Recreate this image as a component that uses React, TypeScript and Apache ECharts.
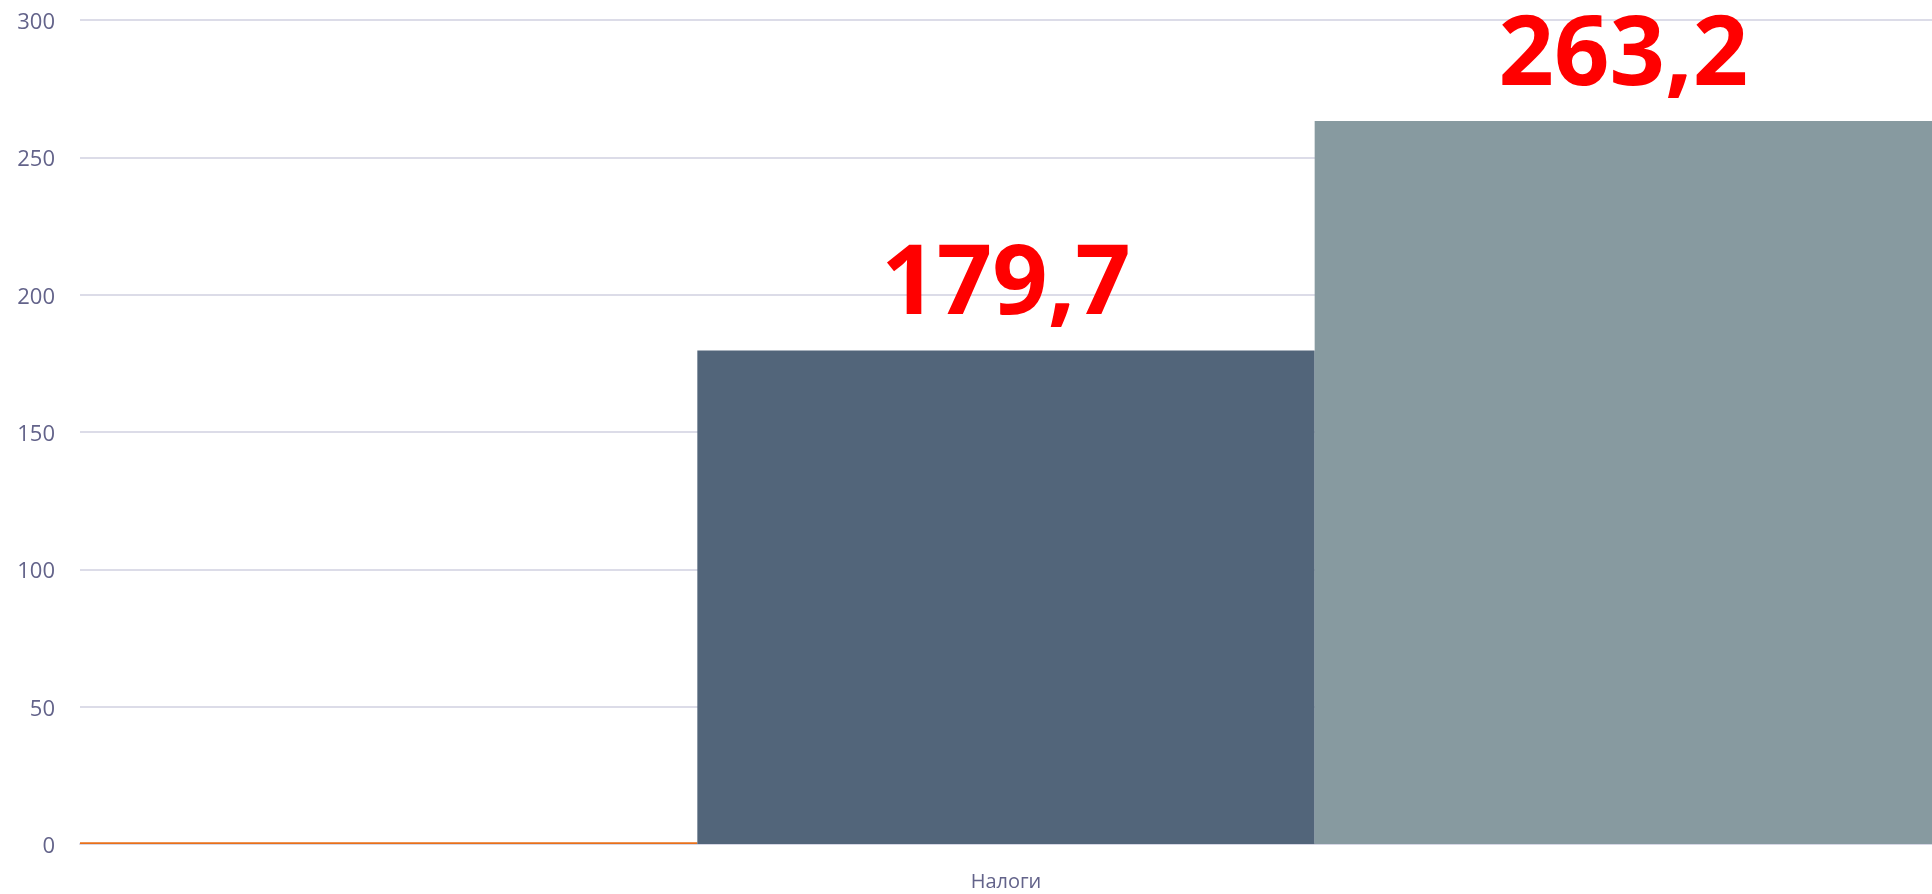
import React, { useEffect, useRef } from "react";
import * as echarts from "echarts";

const categories = ["Налоги"];
const seriesNames = ["Ряд 1", "Ряд 2", "Ряд 3"];
const seriesValues = [[0.6], [179.7], [263.2]];
const seriesColors = ["#e8701a", "#52657a", "#879aa0"];
const showLabels = [false, true, true];

export default function App() {
  const ref = useRef<HTMLDivElement>(null);
  useEffect(() => {
    if (!ref.current) return;
    const chart = echarts.init(ref.current, null, { renderer: "svg" });
    chart.setOption({
      animation: false,
      grid: { left: 80, right: 0, top: 20, bottom: 50, containLabel: false },
      xAxis: {
        type: "category",
        data: categories,
        axisTick: { show: false },
        axisLine: { show: true, lineStyle: { color: "#d6d6e4", width: 2 } },
        axisLabel: {
          color: "#63638a",
          fontFamily: "Open Sans",
          fontSize: 20,
          margin: 26,
        },
      },
      yAxis: {
        type: "value",
        min: 0,
        max: 300,
        interval: 50,
        axisLine: { show: false },
        axisTick: { show: false },
        splitLine: { lineStyle: { color: "#dcdce8", width: 2 } },
        axisLabel: {
          color: "#63638a",
          fontFamily: "Open Sans",
          fontSize: 22,
          margin: 25,
        },
      },
      series: seriesValues.map((vals, i) => ({
        type: "bar",
        name: seriesNames[i],
        data: vals,
        barGap: "0%",
        barCategoryGap: "0%",
        itemStyle: { color: seriesColors[i] },
        label: {
          show: showLabels[i],
          position: "top",
          distance: 34,
          color: "#ff0000",
          fontFamily: "Open Sans",
          fontWeight: "bold",
          fontSize: 97,
          lineHeight: 80,
          formatter: (p: any) => String(p.value).replace(".", ","),
        },
      })),
    });
    return () => chart.dispose();
  }, []);
  return (
    <div
      ref={ref}
      style={{ position: "fixed", left: 0, top: 0, width: 1932, height: 894 }}
    />
  );
}
